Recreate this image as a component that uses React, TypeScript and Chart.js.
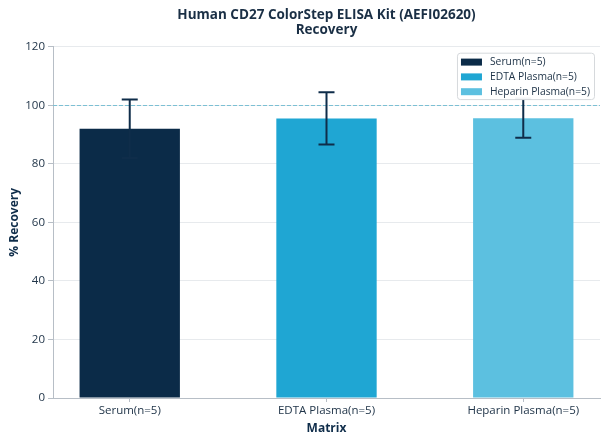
import React, { useEffect, useRef } from "react";
import { Chart, registerables } from "chart.js";

Chart.register(...registerables);

const titleLines = ["Human CD27 ColorStep ELISA Kit (AEFI02620)", "Recovery"];
const categories = ["Serum(n=5)", "EDTA Plasma(n=5)", "Heparin Plasma(n=5)"];
const recoveryMeans = [92, 95.5, 95.6];
const recoveryErrors = [10, 8.9, 6.7];
const barColors = ["#0b2b48", "#1fa6d3", "#5cc0e0"];
const yTicks = [0, 20, 40, 60, 80, 100, 120];
const referenceLine = 100;
const xTitle = "Matrix";
const yTitle = "% Recovery";

const FONT = "'Open Sans', 'Noto Sans', sans-serif";
const TEXT = "#22364a";
const NAVY = "#0f2d4a";
const AXIS = "#b7bec6";

const overlayPlugin = {
  id: "overlay",
  beforeDatasetsDraw(chart: any) {
    const { ctx, chartArea, scales } = chart;
    const y = Math.round(scales.y.getPixelForValue(referenceLine)) + 0.5;
    ctx.save();
    ctx.strokeStyle = "#7cc0d4";
    ctx.lineWidth = 1;
    ctx.setLineDash([4, 2]);
    ctx.beginPath();
    ctx.moveTo(chartArea.left, y);
    ctx.lineTo(chartArea.right, y);
    ctx.stroke();
    ctx.restore();
  },
  afterDatasetsDraw(chart: any) {
    const { ctx, chartArea, scales } = chart;
    // error bars
    ctx.save();
    ctx.strokeStyle = NAVY;
    ctx.lineWidth = 2;
    chart.data.datasets.forEach((ds: any, i: number) => {
      const meta = chart.getDatasetMeta(i);
      const el = meta.data[0];
      if (!el) return;
      const m = recoveryMeans[i];
      const e = recoveryErrors[i];
      const yt = scales.y.getPixelForValue(m + e);
      const yb = scales.y.getPixelForValue(m - e);
      const x = el.x;
      const cw = 8;
      ctx.beginPath();
      ctx.moveTo(x, yt);
      ctx.lineTo(x, yb);
      ctx.moveTo(x - cw, yt);
      ctx.lineTo(x + cw, yt);
      ctx.moveTo(x - cw, yb);
      ctx.lineTo(x + cw, yb);
      ctx.stroke();
    });
    ctx.restore();

    // legend
    ctx.save();
    ctx.font = `10.3px ${FONT}`;
    const maxW = Math.max(...categories.map((c) => ctx.measureText(c).width));
    const swW = 21;
    const swH = 7;
    const padL = 4;
    const gap = 8;
    const padR = 4;
    const rowH = 14.8;
    const boxW = padL + swW + gap + maxW + padR;
    const boxH = 2 + rowH * categories.length;
    const bx = chartArea.right - 6 - boxW;
    const by = chartArea.top + 6;
    ctx.fillStyle = "rgba(255,255,255,0.95)";
    ctx.strokeStyle = "#d6d9dc";
    ctx.lineWidth = 1;
    ctx.beginPath();
    (ctx as any).roundRect(bx + 0.5, by + 0.5, boxW, boxH, 3);
    ctx.fill();
    ctx.stroke();
    categories.forEach((c, i) => {
      const cy = by + 2 + rowH * (i + 0.5);
      ctx.fillStyle = barColors[i];
      ctx.fillRect(bx + padL, cy - swH / 2, swW, swH);
      ctx.fillStyle = TEXT;
      ctx.textBaseline = "middle";
      ctx.textAlign = "left";
      ctx.fillText(c, bx + padL + swW + gap, cy);
    });
    ctx.restore();
  },
};

export default function App() {
  const ref = useRef<HTMLCanvasElement>(null);

  useEffect(() => {
    if (!ref.current) return;
    const chart = new Chart(ref.current, {
      type: "bar",
      data: {
        datasets: categories.map((c, i) => ({
          label: c,
          data: [{ x: i, y: recoveryMeans[i] }],
          backgroundColor: barColors[i],
          borderWidth: 0,
          grouped: false,
          barPercentage: 0.51,
          categoryPercentage: 1,
        })),
      } as any,
      options: {
        animation: false,
        responsive: true,
        maintainAspectRatio: false,
        layout: { padding: { left: 7, right: 8, top: 0, bottom: 8 } },
        plugins: {
          legend: { display: false },
          tooltip: { enabled: false },
          title: {
            display: true,
            fullSize: false,
            text: titleLines,
            color: "#1a2f45",
            font: { family: FONT, size: 13.5, weight: "bold", lineHeight: 1.1 },
            padding: { top: 8, bottom: 9 },
          },
        },
        scales: {
          x: {
            type: "linear",
            min: -0.39,
            max: 2.39,
            offset: false,
            afterBuildTicks: (s: any) => {
              s.ticks = categories.map((_, i) => ({ value: i }));
            },
            afterFit: (s: any) => {
              s.height = 38;
            },
            ticks: {
              autoSkip: false,
              maxRotation: 0,
              padding: 2,
              color: TEXT,
              font: { family: FONT, size: 11.5 },
              callback: (v: any) => categories[v] ?? "",
            },
            grid: {
              offset: false,
              drawOnChartArea: false,
              drawTicks: true,
              tickLength: 4,
              tickColor: AXIS,
            },
            border: { color: AXIS, width: 1 },
            title: {
              display: true,
              text: xTitle,
              color: NAVY,
              font: { family: FONT, size: 12, weight: "bold" },
              padding: { top: 0, bottom: 0 },
            },
          },
          y: {
            min: 0,
            max: 120,
            afterBuildTicks: (s: any) => {
              s.ticks = yTicks.map((v) => ({ value: v }));
            },
            afterFit: (s: any) => {
              s.width = 46;
            },
            ticks: {
              padding: 3,
              color: TEXT,
              font: { family: FONT, size: 11.5 },
            },
            grid: {
              color: "#e7eaed",
              tickColor: AXIS,
              tickLength: 5,
              lineWidth: 1,
            },
            border: { color: AXIS, width: 1 },
            title: {
              display: true,
              text: yTitle,
              color: NAVY,
              font: { family: FONT, size: 12, weight: "bold" },
              padding: { top: 0, bottom: 0 },
            },
          },
        },
      } as any,
      plugins: [overlayPlugin],
    });
    return () => chart.destroy();
  }, []);

  return (
    <div style={{ position: "absolute", left: 0, top: 0, width: 608, height: 444, background: "#fff" }}>
      <canvas ref={ref} />
    </div>
  );
}
